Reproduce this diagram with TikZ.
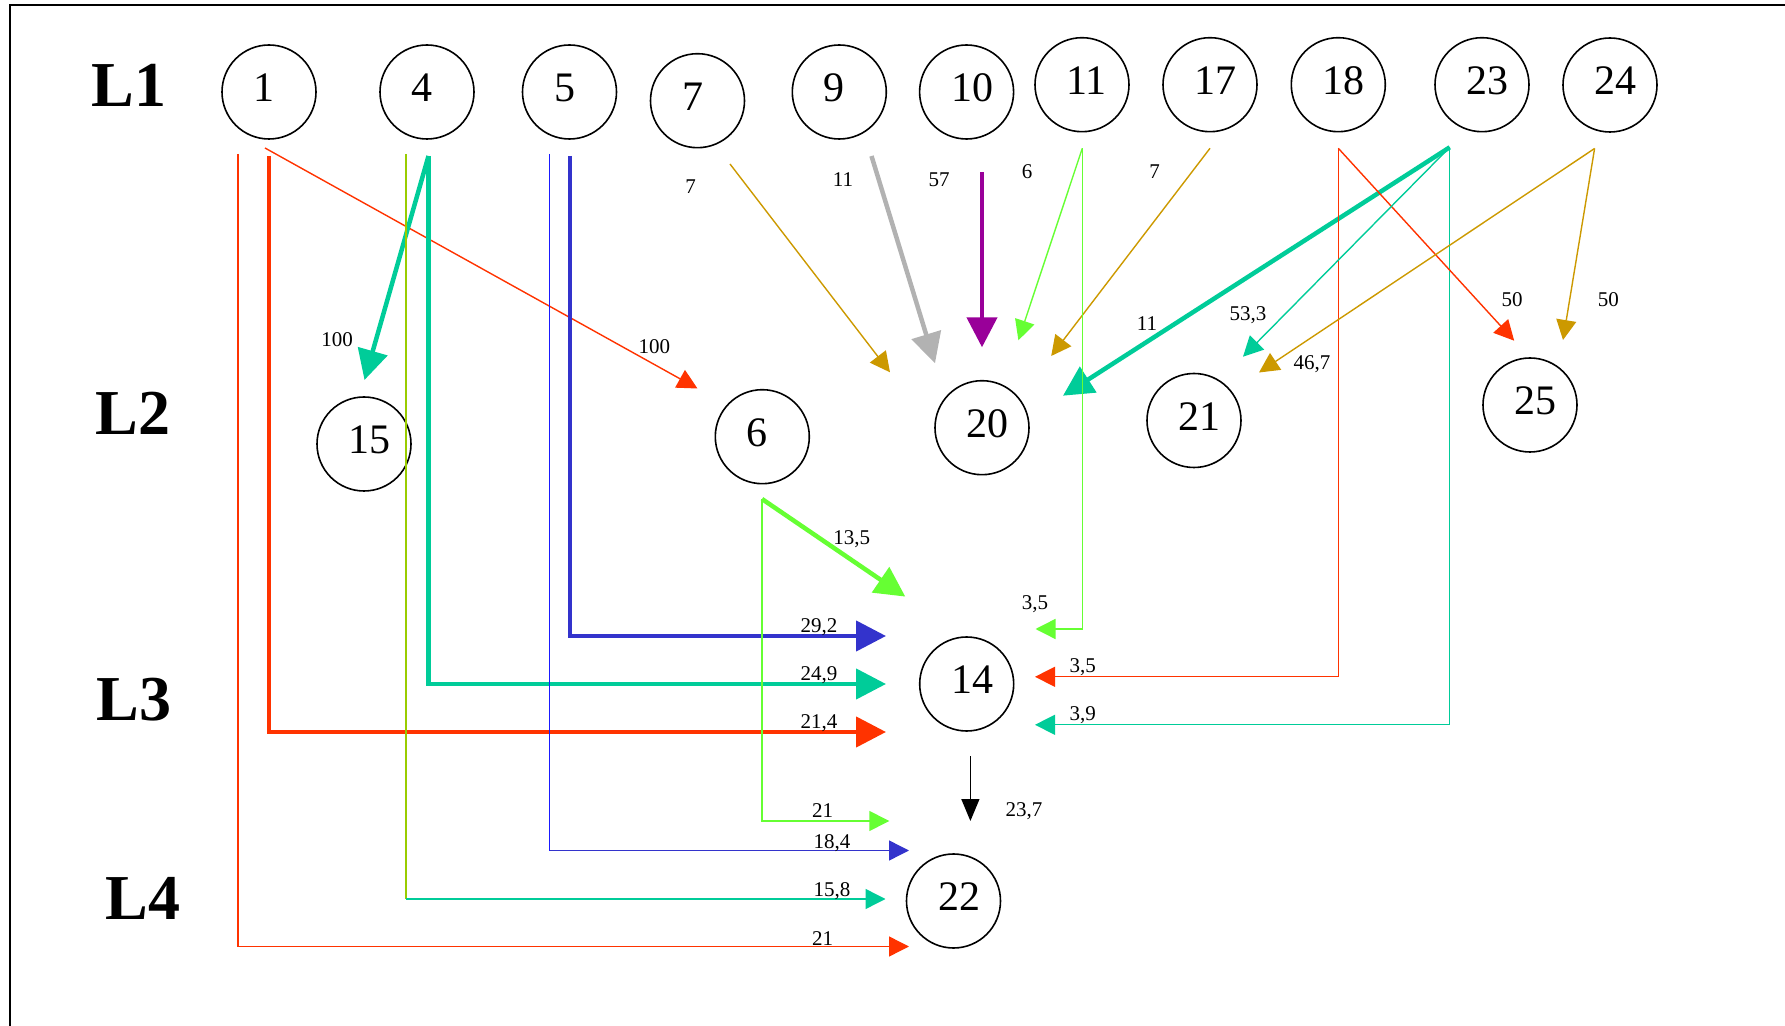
\documentclass[tikz,border=0pt]{standalone}
\usepackage{fontspec}
\setmainfont{Liberation Serif}
\usetikzlibrary{arrows.meta}
\definecolor{cred}{HTML}{FF3300}
\definecolor{cteal}{HTML}{00CC99}
\definecolor{cblue}{HTML}{3333CC}
\definecolor{cbluev}{HTML}{1A1AFF}
\definecolor{cgold}{HTML}{CC9900}
\definecolor{cgrey}{HTML}{B2B2B2}
\definecolor{cpurple}{HTML}{990099}
\definecolor{cgreen}{HTML}{66FF33}
\definecolor{cygreen}{HTML}{99CC00}
\newcommand{\cnum}[1]{\makebox[15.5pt][l]{#1}}
\begin{document}
\begin{tikzpicture}[x=0.5pt,y=-0.5pt,
  circ/.style={draw,circle,line width=0.8pt,minimum size=47pt,inner sep=0pt,text height=14.2pt,text depth=4.5pt,font=\fontsize{21}{21}\selectfont},
  lvl/.style={inner sep=0pt,font=\fontsize{32}{32}\selectfont\bfseries},
  wt/.style={inner sep=0pt,font=\fontsize{10.5}{10.5}\selectfont},
  thinln/.style={line width=0.7pt},
  thinarr/.style={line width=0.7pt,-{Triangle[length=10pt,width=10pt]}},
  thickarr/.style={line width=2.25pt,-{Triangle[length=15pt,width=15pt]}}]
\useasboundingbox (0,0) rectangle (1785,1026);

%Frame
\draw[line width=1pt] (10,1026) -- (10,5) -- (1785,5);

% Level Nodes
\node[lvl] (L1) at (129,85) {L1};
\node[lvl] (L2) at (133,413) {L2};
\node[lvl] (L3) at (134,700) {L3};
\node[lvl] (L4) at (143,898) {L4};

% Circle Nodes
\node[circ] (n1) at (269,92) {\cnum{1}};
\node[circ] (n4) at (427,92) {\cnum{4}};
\node[circ] (n5) at (569.5,92) {\cnum{5}};
\node[circ] (n7) at (697.5,100.7) {\cnum{7}};
\node[circ] (n9) at (839.3,92) {\cnum{9}};
\node[circ] (n10) at (966.6,92) {\cnum{10}};
\node[circ] (n11) at (1082,84.7) {\cnum{11}};
\node[circ] (n17) at (1210,84.7) {\cnum{17}};
\node[circ] (n18) at (1338.3,84.7) {\cnum{18}};
\node[circ] (n23) at (1482,84.7) {\cnum{23}};
\node[circ] (n24) at (1610,85) {\cnum{24}};
\node[circ] (n15) at (364,444) {\cnum{15}};
\node[circ] (n6) at (762.3,436.7) {\cnum{6}};
\node[circ] (n20) at (982,427.7) {\cnum{20}};
\node[circ] (n21) at (1194,420.5) {\cnum{21}};
\node[circ] (n25) at (1530,405) {\cnum{25}};
\node[circ] (n14) at (966.7,684) {\cnum{14}};
\node[circ] (n22) at (953.5,901) {\cnum{22}};

% Start Points
\coordinate (s1a) at (238,154);
\coordinate (s1b) at (269,156);
\coordinate (s1c) at (265,148);
\coordinate (s4a) at (428.5,156);
\coordinate (s4b) at (405.8,154);
\coordinate (s5a) at (570,156);
\coordinate (s5b) at (549.5,154);
\coordinate (s7) at (730,164);
\coordinate (s9) at (871.5,156);
\coordinate (s10) at (982,172.3);
\coordinate (s11) at (1082.3,148.3);
\coordinate (s17) at (1210,148.3);
\coordinate (s18) at (1338.3,148.3);
\coordinate (s23) at (1449.7,147.3);
\coordinate (s24) at (1594.6,148.5);
\coordinate (s6) at (762,499);
\coordinate (s14) at (970.4,756);

% Corners
\coordinate (k1a) at (238,946.5);
\coordinate (k1b) at (269,732);
\coordinate (k4a) at (428.5,684);
\coordinate (k4b) at (405.8,899);
\coordinate (k5a) at (570,636);
\coordinate (k5b) at (549.5,850.5);
\coordinate (k11) at (1082.3,629);
\coordinate (k18) at (1338.3,676.8);
\coordinate (k23) at (1449.7,724.8);
\coordinate (k6) at (762,821);

% End Points
\coordinate (e1a) at (909,946.5);
\coordinate (e1b) at (886,732);
\coordinate (e1c) at (697.5,388.5);
\coordinate (e4a) at (886,684);
\coordinate (e4b) at (885.5,899);
\coordinate (e4c) at (364.5,380);
\coordinate (e5a) at (886,636);
\coordinate (e5b) at (909,850.5);
\coordinate (e7) at (890,372.3);
\coordinate (e9) at (935,363.3);
\coordinate (e10) at (982,347.3);
\coordinate (e11a) at (1018.4,340.3);
\coordinate (e11b) at (1035.5,629);
\coordinate (e17) at (1051.2,356);
\coordinate (e18a) at (1514.2,340.7);
\coordinate (e18b) at (1035,676.8);
\coordinate (e23a) at (1063,395.7);
\coordinate (e23b) at (1243,356.7);
\coordinate (e23c) at (1035,724.8);
\coordinate (e24a) at (1259,372.5);
\coordinate (e24b) at (1563,340);
\coordinate (e6a) at (905.3,596.6);
\coordinate (e6b) at (889.3,821);
\coordinate (e14) at (970.4,821);

%Straight Lines from 1
\draw[thinarr,cred] (s1a) -- (k1a) -- (e1a);
\draw[thickarr,cred] (s1b) -- (k1b) -- (e1b);
\draw[thinarr,cred] (s1c) -- (e1c);
%Straight Lines from 4
\draw[thickarr,cteal] (s4a) -- (e4c);
\draw[thickarr,cteal] (s4a) -- (k4a) -- (e4a);
\draw[thinln,cygreen] (s4b) -- (k4b);
\draw[thinarr,cteal] (k4b) -- (e4b);
%Straight Lines from 5
\draw[thickarr,cblue] (s5a) -- (k5a) -- (e5a);
\draw[thinln,cbluev] (s5b) -- (k5b);
\draw[thinarr,cblue] (k5b) -- (e5b);
%Straight Lines to 20
\draw[thinarr,cgold] (s7) -- (e7);
\draw[thickarr,cgrey] (s9) -- (e9);
\draw[thickarr,cpurple] (s10) -- (e10);
\draw[thinarr,cgreen] (s11) -- (e11a);
\draw[thinarr,cgold] (s17) -- (e17);
\draw[thickarr,cteal] (s23) -- (e23a);
%Straight Lines to 14
\draw[thinarr,cgreen] (s11) -- (k11) -- (e11b);
\draw[thinarr,cred] (s18) -- (k18) -- (e18b);
\draw[thinarr,cteal] (s23) -- (k23) -- (e23c);
\draw[thickarr,cgreen] (s6) -- (e6a);
%Straight Lines to 21 and 25
\draw[thinarr,cred] (s18) -- (e18a);
\draw[thinarr,cteal] (s23) -- (e23b);
\draw[thinarr,cgold] (s24) -- (e24a);
\draw[thinarr,cgold] (s24) -- (e24b);
%Straight Lines to 22
\draw[thinarr,cgreen] (s6) -- (k6) -- (e6b);
\draw[line width=0.7pt,-{Triangle[length=11pt,width=9pt]}] (s14) -- (e14);

% Text Node
\node[wt] (w4a) at (337,339.3) {100};
\node[wt] (w1c) at (654.4,346.7) {100};
\node[wt] (w7) at (690.7,186.7) {7};
\node[wt] (w9) at (843,179.3) {11};
\node[wt] (w10) at (939,179.5) {57};
\node[wt] (w11a) at (1027,171.7) {6};
\node[wt] (w17) at (1154.7,171.7) {7};
\node[wt] (w23a) at (1147,323.3) {11};
\node[wt] (w23b) at (1248,315.5) {53,3};
\node[wt] (w24a) at (1312,363.7) {46,7};
\node[wt] (w18a) at (1512,299.3) {50};
\node[wt] (w24b) at (1608.3,299.3) {50};
\node[wt] (w6a) at (851.8,539.6) {13,5};
\node[wt] (w11b) at (1035,604) {3,5};
\node[wt] (w5a) at (819,627.4) {29,2};
\node[wt] (w4b) at (819,675) {24,9};
\node[wt] (w1b) at (819,723) {21,4};
\node[wt] (w18b) at (1082.7,667.5) {3,5};
\node[wt] (w23c) at (1082.7,715.4) {3,9};
\node[wt] (w6b) at (822.7,811) {21};
\node[wt] (w14) at (1024,811) {23,7};
\node[wt] (w5b) at (832,842.8) {18,4};
\node[wt] (w4c) at (832,890.8) {15,8};
\node[wt] (w1a) at (822.7,938.8) {21};

\end{tikzpicture}
\end{document}
